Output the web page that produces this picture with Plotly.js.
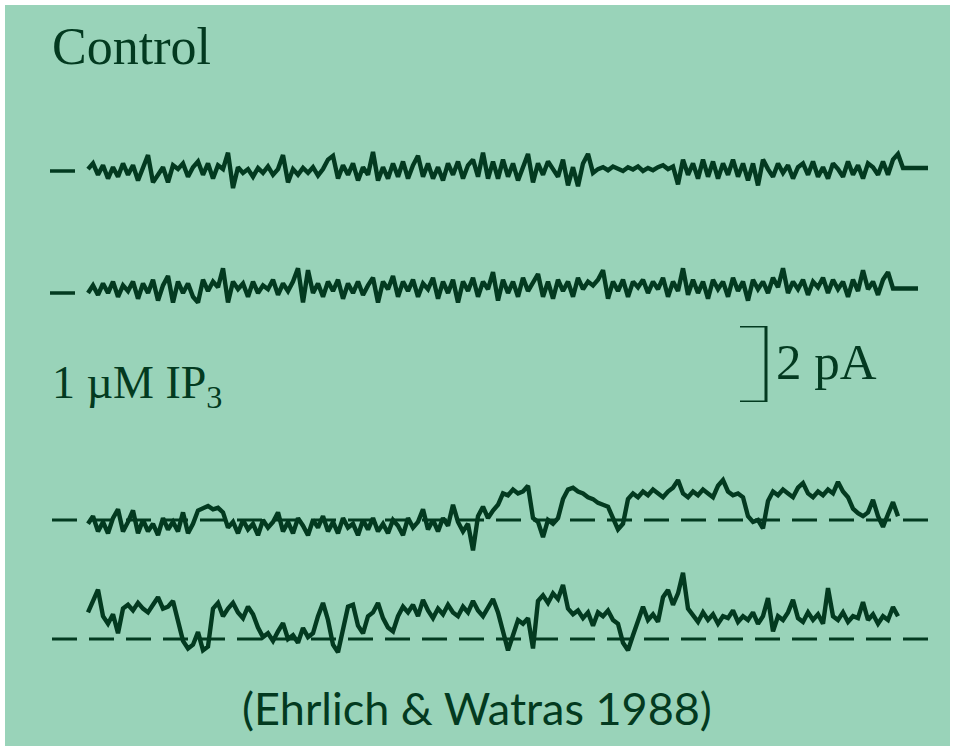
<!DOCTYPE html>
<html>
<head>
<meta charset="utf-8">
<script src="https://cdn.plot.ly/plotly-3.0.1.min.js"></script>
<style>
  html, body { margin: 0; padding: 0; background: #ffffff; }
  #chart { width: 957px; height: 753px; }
</style>
</head>
<body>
<div id="chart"></div>
<script>
// ---------------- DATA (single-channel current, pA; one sample every 5 ms) ----------------
const SAMPLE_MS = 5;

// Control, sweep 1
const controlSweep1 = [
  0.05, 0.2, -0.1,
  0.15, -0.2, 0.1, -0.15, 0.2, -0.1, 0.15, -0.25, 0.1,
  0.42, -0.3,
  -0.1, 0.1, -0.3, 0.15, 0.05, 0.2, -0.15, 0.1, 0.25, -0.1, 0.2, -0.2, 0.15, 0.05,
  0.48, -0.45,
  0.1, -0.05, 0.05, -0.15, 0.08, -0.05, 0.12, -0.1, 0.05,
  0.42, -0.3,
  0.05, -0.1, 0.08, -0.05, 0.1, -0.12, 0.05,
  0.3, 0.4, -0.2,
  0.15, -0.1, 0.2, -0.25, 0.1, -0.1,
  0.5, -0.25,
  0.1, -0.2, 0.2, -0.15, 0.25, -0.2, 0.15, 0.4, -0.15, 0.2, -0.2, 0.1, -0.25, 0.2, -0.1, 0.25, -0.2, 0.15, 0.3, -0.15,
  0.48, -0.2,
  0.25, -0.2, 0.3, -0.15, 0.2, -0.25, 0.1,
  0.45, -0.3,
  0.2, -0.1, 0.25, 0.05, -0.15, 0.3,
  -0.38, 0.1,
  -0.4, 0.2,
  0.45, -0.05,
  0.05, 0.1, 0.02, 0.12, 0.05, 0.0, 0.1, 0.04, 0.12, 0.0, 0.08, 0.02, 0.1, 0.15, 0.05, 0.12,
  -0.35, 0.3,
  -0.1, 0.2, -0.2, 0.3, -0.15, 0.25, -0.2, 0.2, -0.1, 0.3, -0.15, 0.2, -0.25,
  0.2, -0.38, 0.3,
  0.05, -0.15, 0.2, -0.05, 0.15, -0.2, 0.1, 0.2, -0.1, 0.25, -0.15, 0.1, -0.2, 0.2, 0.05, -0.15, 0.25, -0.1, 0.15, -0.2, 0.2, 0.1, -0.1, 0.25, -0.1, 0.3,
  0.45,
  0.08, 0.08, 0.08, 0.08, 0.08, 0.08
];

// Control, sweep 2
const controlSweep2 = [
  0.0, 0.2, -0.05, 0.25, 0.0, 0.3, -0.1, 0.2, 0.05, 0.3,
  -0.15, 0.25, 0.0, 0.35, -0.2, 0.2, 0.45,
  -0.25, 0.3, 0.0, 0.25, -0.1, -0.25,
  0.35, 0.05, 0.3, 0.15, 0.65,
  -0.25, 0.3, 0.1, 0.25, -0.1, 0.3, 0.0, 0.2,
  0.1, 0.35, -0.05, 0.25, 0.05, 0.3, 0.65, -0.25, 0.6,
  0.0, 0.25, -0.1, 0.3, 0.05, 0.35, -0.15, 0.25, 0.0, 0.3, -0.05, 0.2, 0.4,
  -0.25, 0.3, 0.1, 0.45, -0.1, 0.3, 0.05, 0.35, -0.1, 0.25, 0.1, 0.4, -0.15, 0.3, 0.0, 0.35, -0.25,
  0.3, 0.05, 0.4, -0.1, 0.3, 0.1, 0.55, -0.2, 0.35, 0.0, 0.3, -0.1, 0.4, 0.05, 0.3, 0.5,
  -0.1, 0.3, -0.15, 0.35, 0.05, 0.3, -0.1, 0.4, 0.1, 0.3, 0.2, 0.35, 0.6, -0.15, 0.3, 0.05, 0.35, -0.1, 0.3, 0.15,
  0.35, 0.0, 0.3, 0.1, 0.4, -0.1, 0.3, 0.05, 0.65, -0.05, 0.35, 0.0, 0.3, -0.15, 0.35, 0.1, 0.3, -0.1, 0.4, 0.05,
  0.3, -0.2, 0.35, 0.1, 0.3, 0.0, 0.4, 0.15, 0.65, 0.0, 0.3, 0.1, 0.35, -0.05, 0.3,
  0.15, 0.4, 0.0, 0.35, 0.1, 0.3, -0.1, 0.35, 0.05, 0.6, 0.1, 0.3, -0.05, 0.35, 0.55,
  0.12, 0.12, 0.12, 0.12, 0.12, 0.12
];

// 1 uM IP3, sweep 1
const ip3Sweep1 = [
  -0.1, 0.1, -0.3, -0.05, -0.35, 0.05,
  0.28, -0.3, -0.05, 0.25, -0.35,
  0.0, -0.3, -0.1, -0.4, 0.05, -0.25, -0.05, -0.3,
  0.2, -0.35, -0.1,
  0.25, 0.3, 0.37, 0.28, 0.32, 0.2,
  -0.2, -0.05, -0.35, 0.0, -0.25, -0.1, -0.4, 0.0, -0.2, -0.05,
  0.2, -0.3,
  -0.05, -0.35, 0.05, -0.15, -0.4, 0.0, -0.2, 0.1, -0.3, -0.05, -0.35, 0.05, -0.2, -0.1, -0.4, 0.0, -0.25, 0.05, -0.3, -0.1, -0.35, 0.0, -0.15, -0.4, 0.05, -0.2,
  -0.05, 0.28, -0.25,
  0.0, -0.3, 0.05, -0.15,
  0.4, -0.05, -0.3, -0.1,
  -0.8, 0.1, 0.35, 0.05, 0.25, 0.4,
  0.7, 0.65, 0.8, 0.7, 0.75, 0.9,
  0.05, -0.05, -0.45, 0.0, -0.1, 0.05,
  0.55, 0.8, 0.85,
  0.75, 0.7, 0.6, 0.55, 0.45, 0.4, 0.35,
  0.05, -0.25, -0.1,
  0.55, 0.7, 0.6, 0.75, 0.65, 0.8, 0.7, 0.6, 0.75, 0.85, 1.05, 0.7, 0.6, 0.75, 0.65, 0.8, 0.7, 0.6, 0.9, 1.05, 0.75, 0.65, 0.7, 0.6,
  0.1, -0.05, 0.0, -0.22,
  0.5, 0.75, 0.65, 0.8, 0.7, 0.6, 0.85, 0.97, 0.7, 0.6, 0.75, 0.65, 0.8, 0.7, 1.0, 0.75,
  0.6, 0.3, 0.18,
  0.1, 0.2, 0.53, 0.1, -0.18, 0.15, 0.47, 0.1
];

// 1 uM IP3, sweep 2
const ip3Sweep2 = [
  0.7, 1.0, 1.3, 0.6, 0.4, 0.65, 0.15, 0.8,
  0.9, 0.75, 0.95, 0.8, 0.7, 0.9, 1.1, 0.8, 0.85,
  1.0, 0.5, -0.05,
  -0.25, -0.15, 0.18, -0.3, -0.2,
  0.8, 0.95, 0.6, 0.8, 0.95, 0.7, 0.55, 0.85, 0.65,
  0.3, 0.05,
  0.15, -0.05, 0.2, 0.42, 0.0, 0.1, -0.1, 0.29, 0.05, 0.15, 0.6,
  0.95, 0.5, -0.15, -0.35,
  0.3, 0.85, 0.9, 0.35, 0.15,
  0.6, 0.7, 0.95, 0.55, 0.3, 0.2,
  0.6, 0.85, 0.7, 0.9, 0.6, 1.03, 0.75, 0.55, 0.8, 0.65, 0.9, 0.7, 0.6, 0.85, 0.7, 1.0, 0.75, 0.6, 0.85,
  1.05, 0.7, 0.2, -0.3, 0.1,
  0.5, 0.4, 0.55, -0.25, 1.0,
  1.15, 0.95, 1.2, 1.05, 1.42,
  0.8, 0.65, 0.75, 0.55, 0.7, 0.35, 0.7, 0.6, 0.75, 0.5, 0.4,
  -0.1, -0.3, 0.1, 0.5, 0.85,
  0.5, 0.65, 0.45,
  1.1, 1.29, 0.9, 1.2, 1.74, 0.8,
  0.6, 0.45, 0.7, 0.5, 0.65, 0.4, 0.6, 0.55, 0.75, 0.45, 0.6, 0.5, 0.7, 0.4, 0.6, 1.08, 0.2, 0.6, 0.5, 0.7, 1.03,
  0.55, 0.45, 0.7, 0.5, 0.65, 0.4, 1.34, 0.6, 0.5, 0.7, 0.45, 0.6, 0.55, 0.97, 0.5, 0.65, 0.4, 0.6, 0.5, 0.84, 0.6
];

const scaleBarPA = 2;
const scaleBarLabel = '2 pA';
const conditionLabels = ['Control', '1 \u00b5M IP<sub>3</sub>'];
const sourceLabel = '(Ehrlich &amp; Watras 1988)';

// ---------------- LAYOUT ----------------
const W = 957, H = 753;
const INK = '#033a20';
const BG = '#99d3b9';
const PX_PER_PA = 38;        // vertical scale (from scale bar)
const PX_PER_MS = 1;         // horizontal scale
const TRACE_START_PX = 88;   // where sweeps begin
const HALF = 110;            // half-height of each sweep band in px

const xOf = px => (px - TRACE_START_PX) / PX_PER_MS;
const paperX = px => px / W;
const paperY = py => 1 - py / H;

function bandAxis(baselinePx) {
  return {
    domain: [(H - (baselinePx + HALF)) / H, (H - (baselinePx - HALF)) / H],
    range: [-HALF / PX_PER_PA, HALF / PX_PER_PA],
    visible: false, fixedrange: true
  };
}
function scaleAxis(bottomPx) {
  const top = bottomPx - scaleBarPA * PX_PER_PA;
  return {
    domain: [(H - bottomPx) / H, (H - top) / H],
    range: [0, scaleBarPA],
    visible: false, fixedrange: true
  };
}

const times = arr => arr.map((_, i) => i * SAMPLE_MS);
const sweepStyle = { color: INK, width: 4.4, shape: 'linear' };

const data = [
  { x: times(controlSweep1), y: controlSweep1, yaxis: 'y',  type: 'scatter', mode: 'lines', line: sweepStyle, hoverinfo: 'skip' },
  { x: times(controlSweep2), y: controlSweep2, yaxis: 'y2', type: 'scatter', mode: 'lines', line: sweepStyle, hoverinfo: 'skip' },
  { x: times(ip3Sweep1),     y: ip3Sweep1,     yaxis: 'y3', type: 'scatter', mode: 'lines', line: sweepStyle, hoverinfo: 'skip' },
  { x: times(ip3Sweep2),     y: ip3Sweep2,     yaxis: 'y4', type: 'scatter', mode: 'lines', line: sweepStyle, hoverinfo: 'skip' }
];

const white = { fillcolor: '#ffffff', line: { width: 0 }, layer: 'above', type: 'rect', xref: 'paper', yref: 'paper' };
const shapes = [
  // thin white scan border
  Object.assign({ x0: 0, x1: paperX(5), y0: 0, y1: 1 }, white),
  Object.assign({ x0: paperX(950), x1: 1, y0: 0, y1: 1 }, white),
  Object.assign({ x0: 0, x1: 1, y0: paperY(5), y1: 1 }, white),
  Object.assign({ x0: 0, x1: 1, y0: 0, y1: paperY(746) }, white),
  // closed-level markers
  { type: 'line', xref: 'x', yref: 'y',  x0: xOf(50), x1: xOf(75), y0: 0, y1: 0, line: { color: INK, width: 3.5 }, layer: 'below' },
  { type: 'line', xref: 'x', yref: 'y2', x0: xOf(50), x1: xOf(75), y0: 0, y1: 0, line: { color: INK, width: 3.5 }, layer: 'below' },
  { type: 'line', xref: 'x', yref: 'y3', x0: xOf(52), x1: xOf(934), y0: 0, y1: 0, line: { color: INK, width: 3, dash: '25px,12px' }, layer: 'below' },
  { type: 'line', xref: 'x', yref: 'y4', x0: xOf(52), x1: xOf(934), y0: 0, y1: 0, line: { color: INK, width: 3, dash: '25px,12px' }, layer: 'below' },
  // scale bar
  { type: 'path', xref: 'x', yref: 'y5',
    path: `M ${xOf(740)},${scaleBarPA} L ${xOf(766)},${scaleBarPA} L ${xOf(766)},0 L ${xOf(740)},0`,
    line: { color: INK, width: 3 } }
];

const serif = { family: 'Liberation Serif, Times New Roman, serif', color: INK };
const annotations = [
  { text: conditionLabels[0], xref: 'paper', yref: 'paper', x: paperX(50), y: paperY(47),
    xanchor: 'left', yanchor: 'middle', showarrow: false, font: Object.assign({ size: 52 }, serif) },
  { text: conditionLabels[1], xref: 'paper', yref: 'paper', x: paperX(50), y: paperY(386),
    xanchor: 'left', yanchor: 'middle', showarrow: false, font: Object.assign({ size: 46 }, serif) },
  { text: scaleBarLabel, xref: 'paper', yref: 'paper', x: paperX(774), y: paperY(362),
    xanchor: 'left', yanchor: 'middle', showarrow: false, font: Object.assign({ size: 51 }, serif) },
  { text: sourceLabel, xref: 'paper', yref: 'paper', x: paperX(477), y: paperY(708),
    xanchor: 'center', yanchor: 'middle', showarrow: false,
    font: { family: 'Lato, Open Sans, sans-serif', size: 45, color: INK } }
];

const layout = {
  width: W, height: H,
  margin: { l: 0, r: 0, t: 0, b: 0, pad: 0 },
  paper_bgcolor: BG, plot_bgcolor: 'rgba(0,0,0,0)',
  showlegend: false,
  xaxis: { range: [xOf(0), xOf(W)], visible: false, fixedrange: true },
  yaxis:  bandAxis(171),
  yaxis2: bandAxis(293),
  yaxis3: bandAxis(520),
  yaxis4: bandAxis(639),
  yaxis5: scaleAxis(402),
  shapes: shapes,
  annotations: annotations
};

Plotly.newPlot('chart', data, layout, { staticPlot: true, displayModeBar: false });
</script>
</body>
</html>
